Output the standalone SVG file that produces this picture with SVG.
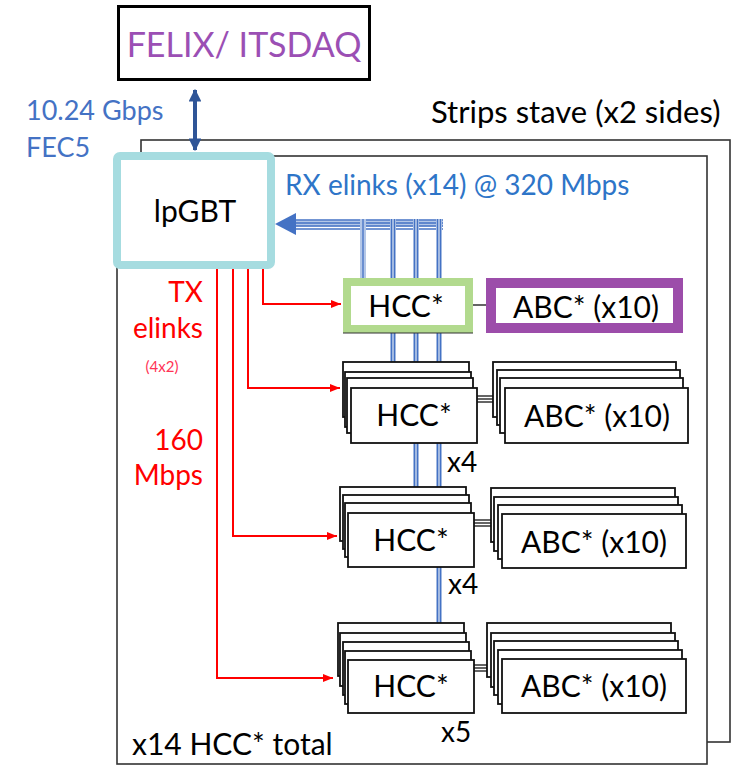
<svg xmlns="http://www.w3.org/2000/svg" width="752" height="767" viewBox="0 0 752 767">
<defs>
<style>
text{font-family:Lato,"Open Sans","Liberation Sans",sans-serif}
.frame{fill:#fff;stroke:#333;stroke-width:1.6}
.box{fill:#fff;stroke:#111;stroke-width:1.8}
.lbl{font-size:30px;fill:#000}
.cnt{font-size:28px;fill:#000}
.red{font-size:28px;fill:#ff0000;text-anchor:end}
.tx{fill:none;stroke:#ff0000;stroke-width:2}
.rxb{fill:none;stroke:#b4c7e7;stroke-width:6}
.rxl{fill:none;stroke:#4472c4;stroke-width:1.3}
.link{stroke:#111;stroke-width:1.3}
</style>
<marker id="ah" viewBox="0 0 10 10" refX="10" refY="5" markerWidth="5" markerHeight="5" orient="auto"><path d="M0,1 L10,5 L0,9 z" fill="#ff0000"/></marker>
<marker id="bh" viewBox="0 0 10 10" refX="9" refY="5" markerWidth="3.2" markerHeight="3.2" orient="auto-start-reverse"><path d="M0,0 L10,5 L0,10 z" fill="#2f5597"/></marker>
</defs>

<g id="stave-back"><rect class="frame" x="141" y="140" width="589" height="602"/></g>
<g id="stave-front"><rect class="frame" x="117" y="156" width="590" height="608"/></g>

<g id="labels">
<text x="26" y="120" font-size="27" fill="#4472c4">10.24 Gbps</text>
<text x="26" y="157" font-size="27" fill="#4472c4">FEC5</text>
<text x="431" y="123" font-size="31" fill="#000">Strips stave (x2 sides)</text>
<text x="285" y="195" font-size="28" fill="#2e75c8">RX elinks (x14) @ 320 Mbps</text>
<text class="red" x="203" y="302">TX</text>
<text class="red" x="203" y="338">elinks</text>
<text x="162" y="372" font-size="15" fill="#ff3355" text-anchor="middle">(4x2)</text>
<text class="red" x="203" y="450">160</text>
<text class="red" x="203" y="485">Mbps</text>
<text class="cnt" x="447" y="472">x4</text>
<text class="cnt" x="448" y="594">x4</text>
<text class="cnt" x="441" y="742">x5</text>
<text x="132" y="755" font-size="30" fill="#000">x14 HCC* total</text>
</g>

<g id="connectors">
<line x1="195" y1="90" x2="195" y2="150" stroke="#2f5597" stroke-width="4" marker-start="url(#bh)" marker-end="url(#bh)"/>
<g>
<line class="rxb" x1="295" y1="223.5" x2="443" y2="223.5" stroke-width="9"/>
<line class="rxl" x1="295" y1="220" x2="443" y2="220"/>
<line class="rxl" x1="295" y1="223" x2="443" y2="223"/>
<line class="rxl" x1="295" y1="226" x2="443" y2="226"/>
<line class="rxl" x1="295" y1="229" x2="443" y2="229"/>
<line class="rxb" x1="363" y1="219" x2="363" y2="280" stroke-width="4"/>
<line class="rxl" x1="363" y1="219" x2="363" y2="280"/>
<line class="rxb" x1="393" y1="219" x2="393" y2="364"/>
<line class="rxl" x1="391.5" y1="219" x2="391.5" y2="364"/>
<line class="rxl" x1="394.5" y1="219" x2="394.5" y2="364"/>
<line class="rxb" x1="416" y1="219" x2="416" y2="489"/>
<line class="rxl" x1="414.5" y1="219" x2="414.5" y2="489"/>
<line class="rxl" x1="417.5" y1="219" x2="417.5" y2="489"/>
<line class="rxb" x1="439" y1="219" x2="439" y2="625"/>
<line class="rxl" x1="437.5" y1="219" x2="437.5" y2="625"/>
<line class="rxl" x1="440.5" y1="219" x2="440.5" y2="625"/>
<path d="M275,224 L296,213 L296,235 z" fill="#4472c4"/>
</g>
<path class="tx" d="M263,269 V304 H341" marker-end="url(#ah)"/>
<path class="tx" d="M248,269 V388 H340" marker-end="url(#ah)"/>
<path class="tx" d="M233,269 V536 H337" marker-end="url(#ah)"/>
<path class="tx" d="M217,269 V678 H333" marker-end="url(#ah)"/>
<line class="link" x1="473" y1="305" x2="496" y2="305" stroke-width="2"/>
<line class="link" x1="477" y1="396" x2="505" y2="396"/>
<line class="link" x1="477" y1="399" x2="505" y2="399"/>
<line class="link" x1="477" y1="402" x2="505" y2="402"/>
<line class="link" x1="474" y1="520" x2="502" y2="520"/>
<line class="link" x1="474" y1="523" x2="502" y2="523"/>
<line class="link" x1="474" y1="526" x2="502" y2="526"/>
<line class="link" x1="474" y1="665" x2="502" y2="665"/>
<line class="link" x1="474" y1="668" x2="502" y2="668"/>
<line class="link" x1="474" y1="671" x2="502" y2="671"/>
</g>

<g id="felix">
<rect x="118.5" y="6.5" width="251" height="73" fill="#fff" stroke="#000" stroke-width="3"/>
<text x="244" y="57" font-size="34" fill="#9b4fb4" text-anchor="middle">FELIX/ ITSDAQ</text>
</g>

<g id="lpgbt">
<rect x="117" y="156" width="154" height="109" rx="3" fill="#fff" stroke="#a6dce0" stroke-width="8"/>
<text class="lbl" x="195" y="222" text-anchor="middle" font-size="31">lpGBT</text>
</g>

<g id="hcc1">
<rect x="347" y="282" width="122" height="47" fill="#fff" stroke="#b2da8e" stroke-width="8"/>
<line x1="343" y1="333" x2="473" y2="333" stroke="#333" stroke-width="1"/>
<text class="lbl" x="406" y="317" text-anchor="middle">HCC*</text>
</g>

<g id="abc1">
<rect x="491" y="283" width="187" height="45" fill="#fff" stroke="#9c4daa" stroke-width="10"/>
<text class="lbl" x="586" y="318" text-anchor="middle">ABC* (x10)</text>
</g>

<g id="hcc2">
<rect class="box" x="343" y="362" width="126" height="55"/>
<rect class="box" x="345" y="372" width="126" height="55"/>
<rect class="box" x="347" y="378" width="126" height="55"/>
<rect class="box" x="351" y="388" width="126" height="55"/>
<text class="lbl" x="414" y="426" text-anchor="middle">HCC*</text>
</g>

<g id="abc2">
<rect class="box" x="493" y="362" width="183" height="55"/>
<rect class="box" x="497" y="370" width="183" height="55"/>
<rect class="box" x="500" y="378" width="183" height="55"/>
<rect class="box" x="505" y="388" width="183" height="55"/>
<text class="lbl" x="597" y="427" text-anchor="middle">ABC* (x10)</text>
</g>

<g id="hcc3">
<rect class="box" x="340" y="487" width="126" height="54"/>
<rect class="box" x="343" y="495" width="126" height="54"/>
<rect class="box" x="345" y="503" width="126" height="54"/>
<rect class="box" x="348" y="513" width="126" height="54"/>
<text class="lbl" x="411" y="551" text-anchor="middle">HCC*</text>
</g>

<g id="abc3">
<rect class="box" x="491" y="488" width="184" height="54"/>
<rect class="box" x="494" y="497" width="184" height="54"/>
<rect class="box" x="498" y="505" width="184" height="54"/>
<rect class="box" x="502" y="514" width="184" height="54"/>
<text class="lbl" x="594" y="553" text-anchor="middle">ABC* (x10)</text>
</g>

<g id="hcc4">
<rect class="box" x="338" y="623" width="126" height="53"/>
<rect class="box" x="340" y="633" width="126" height="53"/>
<rect class="box" x="343" y="642" width="126" height="53"/>
<rect class="box" x="345" y="651" width="126" height="53"/>
<rect class="box" x="348" y="660" width="126" height="53"/>
<text class="lbl" x="411" y="697" text-anchor="middle">HCC*</text>
</g>

<g id="abc4">
<rect class="box" x="487" y="623" width="184" height="54"/>
<rect class="box" x="491" y="633" width="184" height="54"/>
<rect class="box" x="494" y="641" width="184" height="54"/>
<rect class="box" x="498" y="650" width="184" height="54"/>
<rect class="box" x="502" y="659" width="184" height="54"/>
<text class="lbl" x="594" y="697" text-anchor="middle">ABC* (x10)</text>
</g>
</svg>
